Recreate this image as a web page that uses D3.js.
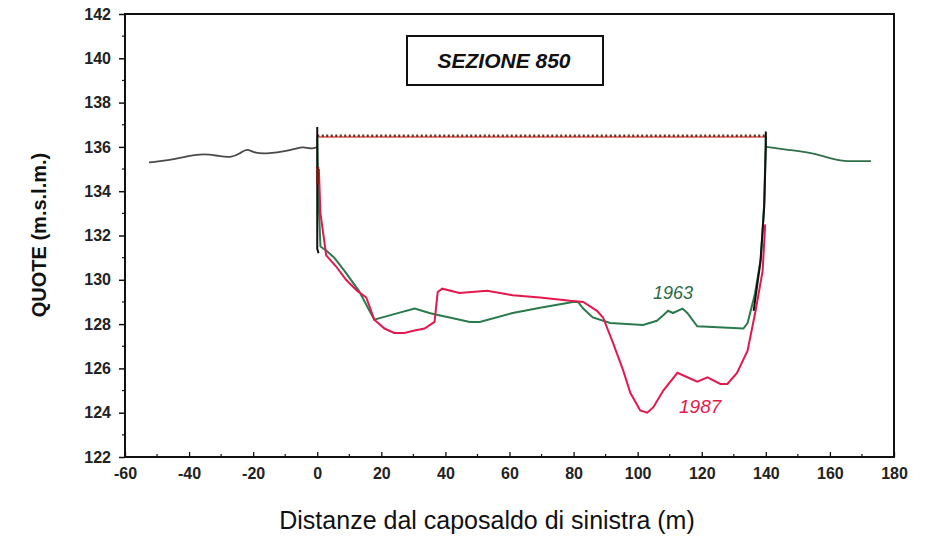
<!DOCTYPE html>
<html><head><meta charset="utf-8">
<script src="https://cdn.jsdelivr.net/npm/d3@7"></script>
<style>body{margin:0;background:#fff}svg{display:block}</style>
</head><body>
<svg id="c" width="935" height="536"></svg>
<script>
const xTicks = [-60,-40,-20,0,20,40,60,80,100,120,140,160,180];
const yTicks = [122,124,126,128,130,132,134,136,138,140,142];
const leftBankX = [-52.5,-46,-40,-35.5,-31,-27,-24,-22,-19.5,-15,-10,-6,-4.5,-1.5,0];
const leftBankY = [135.3,135.4,135.6,135.7,135.6,135.5,135.7,135.95,135.7,135.7,135.8,135.95,136.0,135.9,136.0];
const rightBankX = [140,148,155.5,162.8,167,172.8];
const rightBankY = [136.0,135.85,135.7,135.36,135.36,135.36];
const waterX = [0,140];
const waterY = [136.45,136.45];
const s1963X = [0,0.3,1,3,5.3,8.5,13,16.3,17.8,24,30.4,35,38,41.3,47.6,50.7,61,70,79.8,81.4,83,86,91.4,101.7,106,108,109.5,111,114,115.5,118.6,133,134.3,136.5,138.5,139.5,140];
const s1963Y = [136.5,134,131.5,131.3,131.0,130.4,129.5,128.6,128.2,128.45,128.7,128.5,128.4,128.3,128.1,128.1,128.5,128.75,129.0,129.0,128.7,128.3,128.05,127.96,128.15,128.4,128.6,128.5,128.7,128.5,127.9,127.8,128.05,129.3,131,133.5,136.5];
const s1987X = [0.5,1,2.8,5.9,9,12.5,15.3,17.8,21,24,27.2,30,33.5,36.6,37.6,39,44.4,53,61,69.5,78.9,83,87.3,89.2,92.3,95.5,97.7,100.8,103,104.9,108,112.4,115.5,118.6,121.8,125.8,128,131,134.3,136.8,139,139.8];
const s1987Y = [135.0,133,131.1,130.6,130.0,129.5,129.2,128.2,127.8,127.6,127.6,127.7,127.8,128.1,129.45,129.6,129.4,129.5,129.3,129.2,129.05,129.0,128.6,128.3,127.15,125.9,124.9,124.1,124.0,124.25,125.0,125.8,125.6,125.4,125.6,125.3,125.3,125.8,126.8,128.6,130.4,132.5];
const wallLX = [0,0,0.4];
const wallLY = [136.9,131.4,131.2];
const wallRX = [136.2,138.3,139.5,140,140];
const wallRY = [128.6,130.8,133.3,136.0,136.7];

const svg = d3.select("#c");
const x = d3.scaleLinear().domain([-60,180]).range([125,894]);
const y = d3.scaleLinear().domain([122,142]).range([457,14]);
const font = "'Liberation Sans', Arial, sans-serif";
const fmt = d => String(d);

// frame
svg.append("rect").attr("x",x(-60)).attr("y",y(142)).attr("width",x(180)-x(-60)).attr("height",y(122)-y(142))
  .attr("fill","none").attr("stroke","#111").attr("stroke-width",2);

// y axis
const yAx = svg.append("g").attr("transform",`translate(${x(-60)},0)`)
  .call(d3.axisLeft(y).tickValues(yTicks).tickSize(6).tickPadding(8).tickFormat(fmt));
yAx.select(".domain").remove();
yAx.selectAll("line").attr("stroke","#111").attr("stroke-width",1.5);
yAx.selectAll("text").attr("font-family",font).attr("font-size",16).attr("font-weight","bold").attr("fill","#222");
const yMinor = d3.range(123,142,2);
svg.append("g").selectAll("line").data(yMinor).join("line")
  .attr("x1",x(-60)-3).attr("x2",x(-60)).attr("y1",d=>y(d)).attr("y2",d=>y(d)).attr("stroke","#111").attr("stroke-width",1.2);

// x axis
const xAx = svg.append("g").attr("transform",`translate(0,${y(122)})`)
  .call(d3.axisBottom(x).tickValues(xTicks).tickSize(-5).tickPadding(11).tickFormat(fmt));
xAx.select(".domain").remove();
xAx.selectAll("line").attr("stroke","#111").attr("stroke-width",1.3);
xAx.selectAll("text").attr("font-family",font).attr("font-size",16).attr("font-weight","bold").attr("fill","#222");
const xMinor = d3.range(-50,180,20);
svg.append("g").selectAll("line").data(xMinor).join("line")
  .attr("x1",d=>x(d)).attr("x2",d=>x(d)).attr("y1",y(122)).attr("y2",y(122)-3).attr("stroke","#111").attr("stroke-width",1.2);

const line = d3.line().x(d=>x(d[0])).y(d=>y(d[1])).curve(d3.curveLinear);
const smooth = d3.line().x(d=>x(d[0])).y(d=>y(d[1])).curve(d3.curveBasis);
const zip = (a,b)=>a.map((v,i)=>[v,b[i]]);

svg.append("path").attr("d",smooth(zip(leftBankX,leftBankY))).attr("fill","none").attr("stroke","#4a4a4a").attr("stroke-width",1.8);
svg.append("path").attr("d",smooth(zip(rightBankX,rightBankY))).attr("fill","none").attr("stroke","#2f6e4a").attr("stroke-width",1.8);

// water level (dotted)
svg.append("path").attr("d",line(zip(waterX,waterY))).attr("fill","none").attr("stroke","#d9534f").attr("stroke-width",1.5);
svg.append("path").attr("d",line(zip(waterX,waterY.map(v=>v+0.05)))).attr("fill","none").attr("stroke","#6b2a1a").attr("stroke-width",2.5).attr("stroke-dasharray","2,2.5");

svg.append("path").attr("d",line(zip(s1963X,s1963Y))).attr("fill","none").attr("stroke","#2a7a4c").attr("stroke-width",2);
svg.append("path").attr("d",line(zip(s1987X,s1987Y))).attr("fill","none").attr("stroke","#e3194e").attr("stroke-width",2);
svg.append("path").attr("d",line(zip(wallLX,wallLY))).attr("fill","none").attr("stroke","#111").attr("stroke-width",2);
svg.append("path").attr("d",line(zip(wallRX,wallRY))).attr("fill","none").attr("stroke","#111").attr("stroke-width",2);
svg.append("rect").attr("x",x(0)-1).attr("y",y(135.1)).attr("width",3).attr("height",y(134.3)-y(135.1)).attr("fill","#7a1a14");

// series labels
svg.append("text").attr("x",x(111)).attr("y",y(128.9)-5).attr("text-anchor","middle").attr("font-family",font).attr("font-style","italic").attr("font-size",18).attr("fill","#2a6a44").text("1963");
svg.append("text").attr("x",x(119.5)).attr("y",y(124.4)+9).attr("text-anchor","middle").attr("font-family",font).attr("font-style","italic").attr("font-size",19).attr("fill","#e3194e").text("1987");

// title box
svg.append("rect").attr("x",407).attr("y",36).attr("width",196).attr("height",49).attr("fill","#fff").attr("stroke","#111").attr("stroke-width",2);
svg.append("text").attr("x",504).attr("y",68).attr("text-anchor","middle").attr("font-family",font).attr("font-style","italic").attr("font-weight","bold").attr("font-size",21).attr("fill","#111").text("SEZIONE 850");

// axis titles
svg.append("text").attr("transform","translate(46,235) rotate(-90)").attr("text-anchor","middle").attr("font-family",font).attr("font-size",20).attr("font-weight","bold").attr("fill","#111").text("QUOTE (m.s.l.m.)");
svg.append("text").attr("x",487).attr("y",529).attr("text-anchor","middle").attr("font-family",font).attr("font-size",25).attr("fill","#111").text("Distanze dal caposaldo di sinistra (m)");
</script>
</body></html>
